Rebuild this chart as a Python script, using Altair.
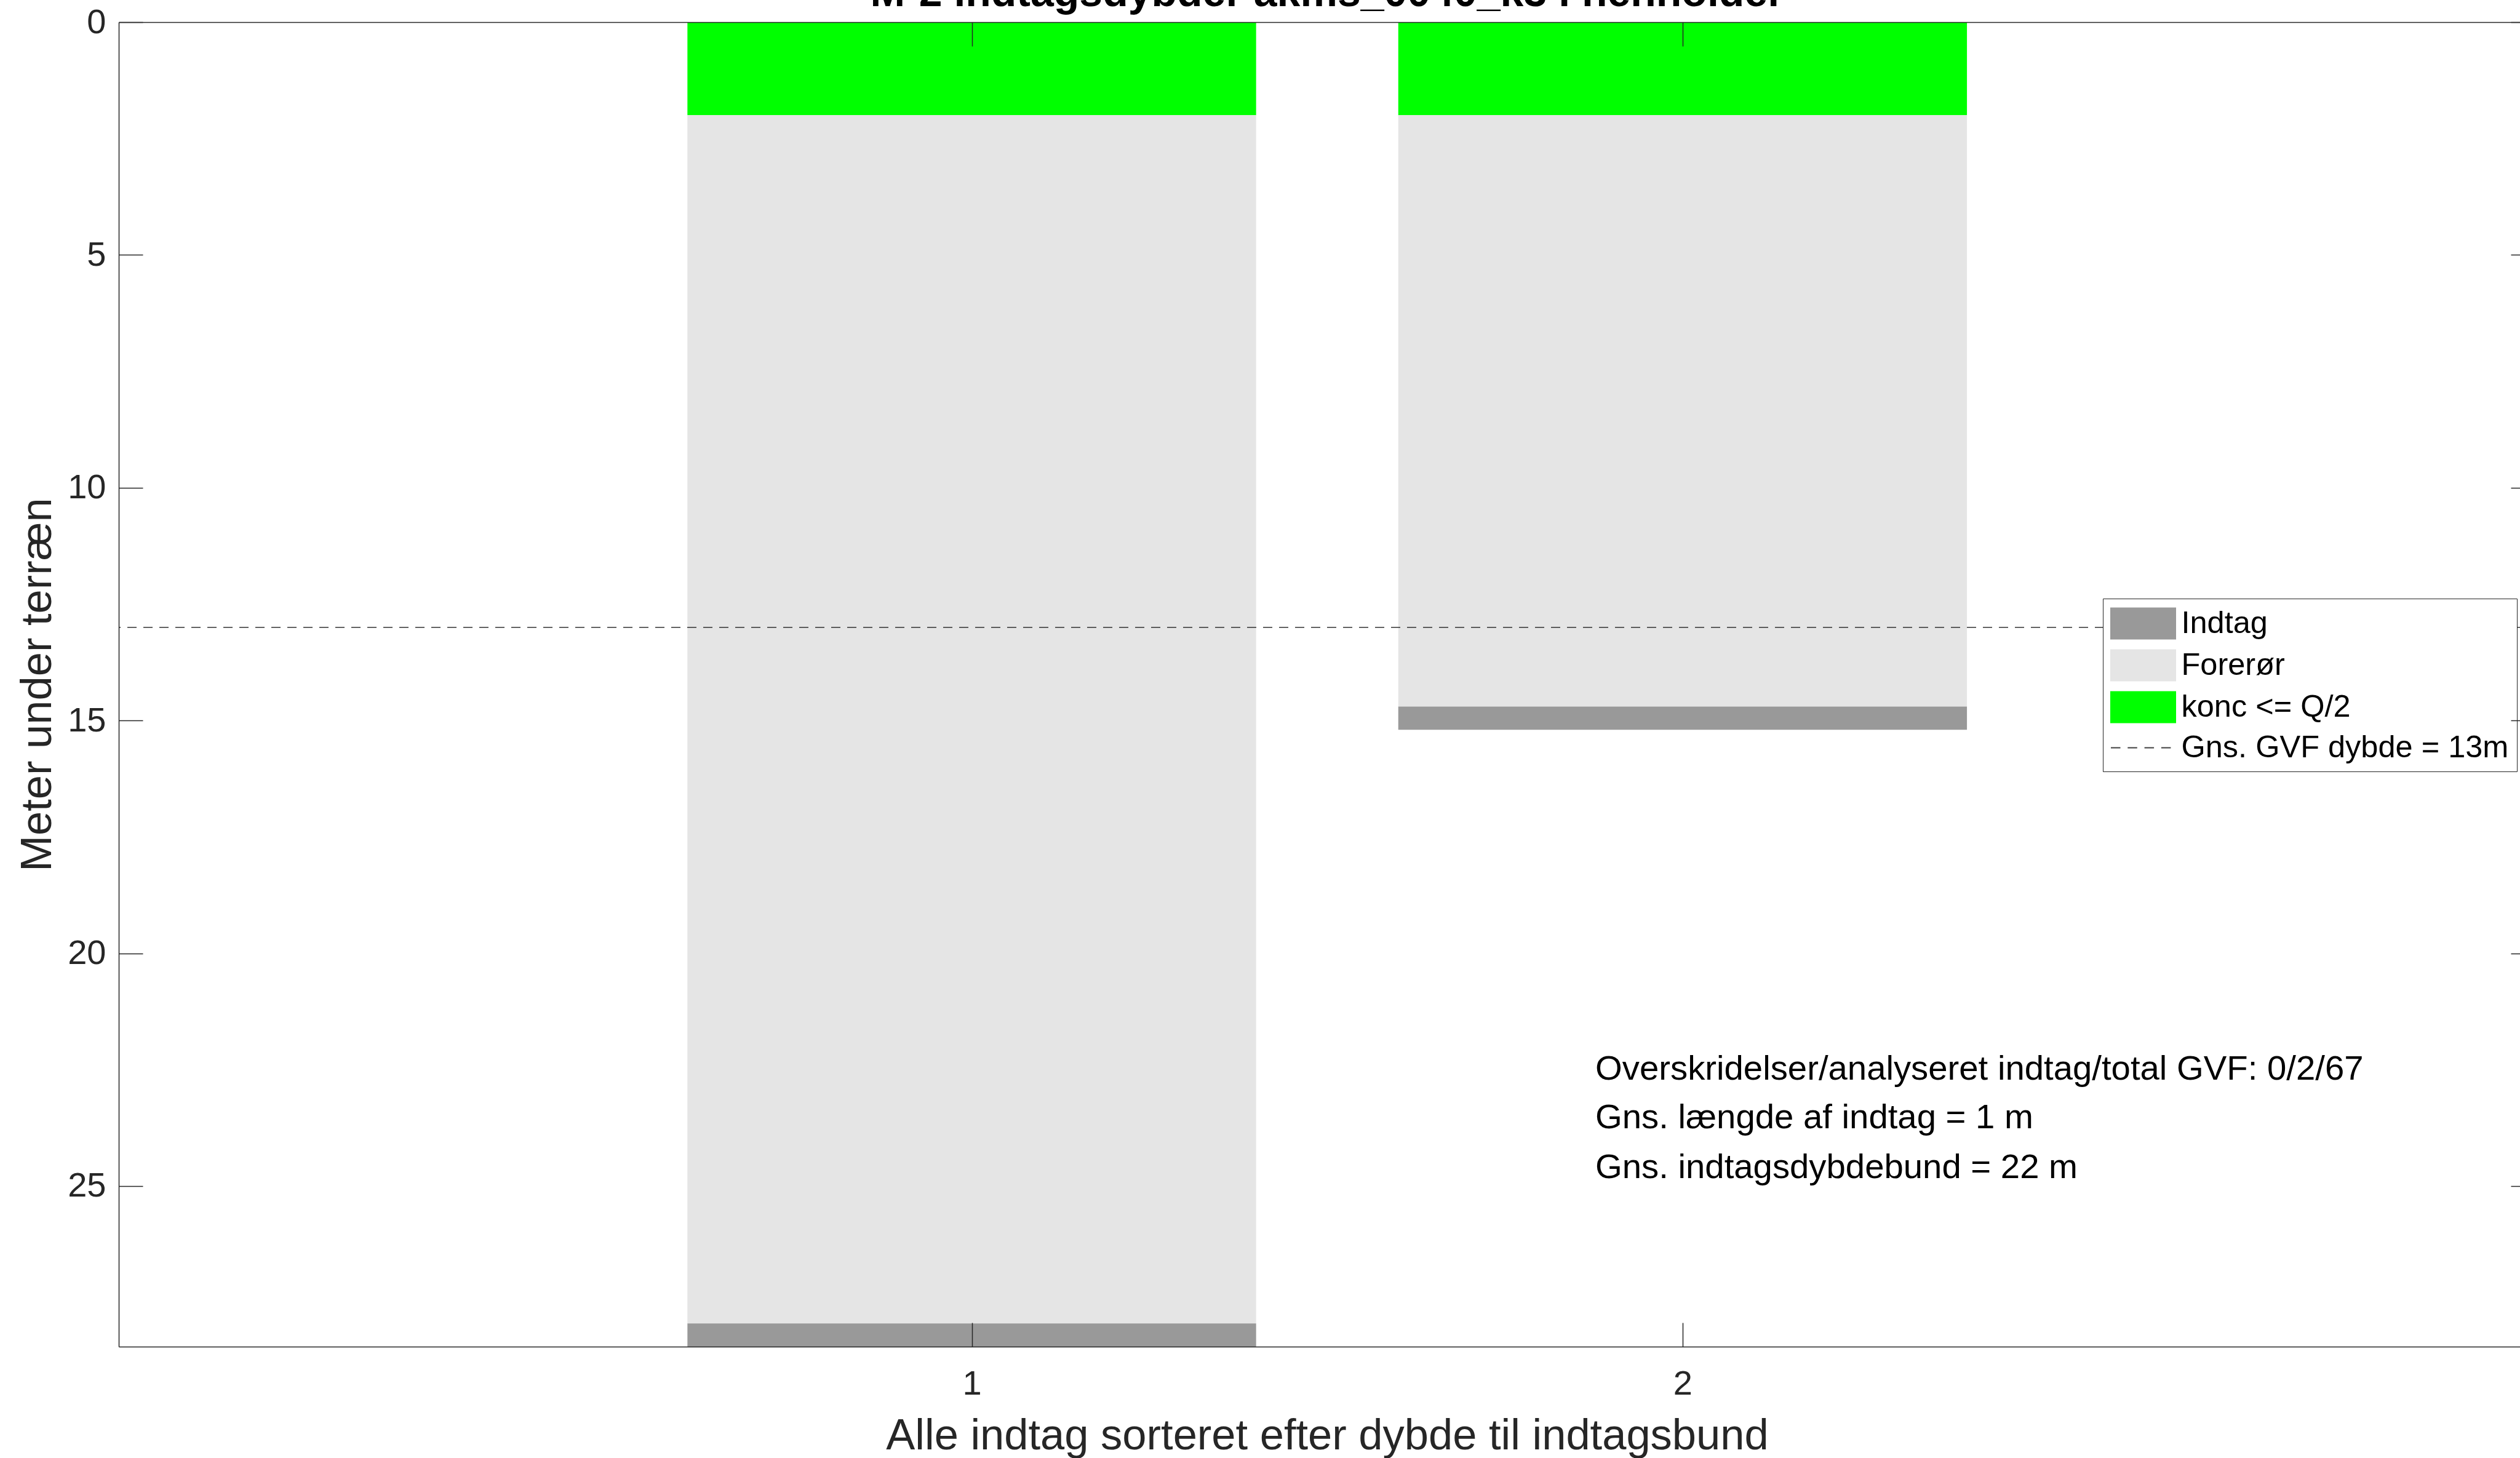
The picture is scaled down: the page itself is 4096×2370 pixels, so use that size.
import altair as alt
import pandas as pd

# ---------------- data ----------------
intake_ids = [1, 2]
konc_top = [0.0, 0.0]
konc_bottom = [2.0, 2.0]
casing_bottom = [27.95, 14.7]
intake_bottom = [28.45, 15.2]
parts = ["Indtag", "Forerør", "konc <= Q/2", "Gns. GVF dybde = 13m"]
part_colors = ["#999999", "#e5e5e5", "#00ff00", "#404040"]
gvf_mean_depth = [13]
y_ticks = [0, 5, 10, 15, 20, 25]
x_ticks = [1, 2]
y_max = 28.45
x_domain = [-0.2, 3.178]
title_text = "M-2 indtagsdybder akms_0040_k3 i henholder"
x_title = "Alle indtag sorteret efter dybde til indtagsbund"
y_title = "Meter under terræn"
note_lines = [
    "Overskridelser/analyseret indtag/total GVF: 0/2/67",
    "Gns. længde af indtag = 1 m",
    "Gns. indtagsdybdebund = 22 m",
]

rows = []
for i, idx in enumerate(intake_ids):
    rows.append({"id": idx, "part": parts[2], "start": konc_top[i], "end": konc_bottom[i]})
    rows.append({"id": idx, "part": parts[1], "start": konc_bottom[i], "end": casing_bottom[i]})
    rows.append({"id": idx, "part": parts[0], "start": casing_bottom[i], "end": intake_bottom[i]})
seg_df = pd.DataFrame(rows)

# ---------------- layout ----------------
W, H = 3903, 2153
PAD_L, PAD_T = 193, 36
FONT = "Liberation Sans"
AX = "#262626"

RECT = "M-2,-0.952H2V0.952H-2Z"
DASH = "M-2,0H-1.41M-0.96,0H-0.37M0.08,0H0.67M1.12,0H1.71"

xs = alt.Scale(domain=x_domain, nice=False, zero=False)
ys = alt.Scale(domain=[0, y_max], nice=False, zero=False, reverse=True)
color_scale = alt.Scale(domain=parts, range=part_colors)
shape_scale = alt.Scale(domain=parts, range=[RECT, RECT, RECT, DASH])
stroke_scale = alt.Scale(domain=parts, range=part_colors)


def tick_axis(orient, offset, values, size, domain=False):
    return alt.Axis(orient=orient, offset=offset, values=values, labels=False,
                    ticks=True, tickSize=size, tickWidth=1.5, tickColor=AX,
                    domain=domain, domainColor=AX, domainWidth=1.5,
                    grid=False, title="", zindex=1)


base = alt.Chart(seg_df).transform_calculate(
    x_left="datum.id - 0.4", x_right="datum.id + 0.4"
)

bars = base.mark_bar(strokeWidth=0).encode(
    x=alt.X("x_left:Q", scale=xs, axis=alt.Axis(
        orient="bottom", values=x_ticks, format="d", ticks=False, tickSize=0,
        domain=True, domainColor=AX, domainWidth=1.5, grid=False,
        labelFont=FONT, labelFontSize=56, labelColor=AX, labelPadding=33,
        labelFlush=False, labelOverlap=False,
        title=x_title, titleFont=FONT, titleFontSize=70.5, titleFontWeight="normal",
        titleColor=AX, titlePadding=22, titleX=1964, titleAlign="center", zindex=1)),
    x2="x_right:Q",
    y=alt.Y("start:Q", scale=ys, axis=alt.Axis(
        orient="left", values=y_ticks, ticks=False, tickSize=0,
        domain=True, domainColor=AX, domainWidth=1.5, grid=False,
        labelFont=FONT, labelFontSize=56, labelColor=AX, labelPadding=21,
        labelFlush=False, labelOverlap=False,
        title=y_title, titleFont=FONT, titleFontSize=70.5, titleFontWeight="normal",
        titleColor=AX, titlePadding=12, zindex=1)),
    y2="end:Q",
    color=alt.Color("part:N", scale=color_scale, title=None),
)

ticks_a = base.mark_bar(opacity=0).encode(
    x=alt.X("x_left:Q", scale=xs, axis=tick_axis("bottom", -H, x_ticks, 39, domain=True)),
    x2="x_right:Q",
    y=alt.Y("start:Q", scale=ys, axis=tick_axis("right", -W, y_ticks, 39)),
    y2="end:Q",
)

ticks_b = base.mark_bar(opacity=0).encode(
    x=alt.X("x_left:Q", scale=xs, axis=tick_axis("top", -H, x_ticks, 39)),
    x2="x_right:Q",
    y=alt.Y("start:Q", scale=ys, axis=tick_axis("left", -W, y_ticks, 15)),
    y2="end:Q",
)

gvf_rule = alt.Chart(pd.DataFrame({"d": gvf_mean_depth})).mark_rule(
    strokeDash=[15, 11], strokeWidth=1.5, color="#333333"
).encode(y=alt.Y("d:Q", scale=ys, axis=None))

legend_pts = alt.Chart(pd.DataFrame({"part": parts})).mark_point(
    filled=True, opacity=0
).encode(
    x=alt.value(0), y=alt.value(0),
    color=alt.Color("part:N", scale=color_scale, title=None),
    shape=alt.Shape("part:N", scale=shape_scale, title=None),
    stroke=alt.Stroke("part:N", scale=stroke_scale, title=None),
)

title_mark = alt.Chart(pd.DataFrame({"t": [title_text]})).mark_text(
    font=FONT, fontSize=68, fontWeight="bold", color="black",
    align="center", baseline="alphabetic"
).encode(text="t:N", x=alt.value(1964), y=alt.value(-26))

note_y = [1702, 1781, 1862]
notes = []
for line, yy in zip(note_lines, note_y):
    notes.append(alt.Chart(pd.DataFrame({"t": [line]})).mark_text(
        font=FONT, fontSize=56.3, color="black", align="left", baseline="middle"
    ).encode(text="t:N", x=alt.value(2400), y=alt.value(yy)))

chart = alt.layer(bars, ticks_a, ticks_b, gvf_rule, legend_pts, title_mark, *notes).resolve_scale(
    x="independent", y="independent"
).resolve_axis(
    x="independent", y="independent"
).properties(
    width=W, height=H,
    autosize=alt.AutoSizeParams(type="none"),
    padding={"left": PAD_L, "top": PAD_T, "right": 0, "bottom": 2370 - PAD_T - H},
    background="white",
).configure_view(
    stroke="transparent"
).configure_legend(
    orient="none", legendX=3225, legendY=937, padding=13,
    fillColor="white", strokeColor=AX, cornerRadius=0,
    labelFont=FONT, labelFontSize=50.5, labelColor="black", labelOffset=34.5,
    labelLimit=1000, symbolSize=2756, symbolOffset=25, symbolStrokeWidth=2,
    symbolOpacity=1, rowPadding=9,
)

chart.save("out.html", embed_options={"renderer": "svg", "actions": False})
